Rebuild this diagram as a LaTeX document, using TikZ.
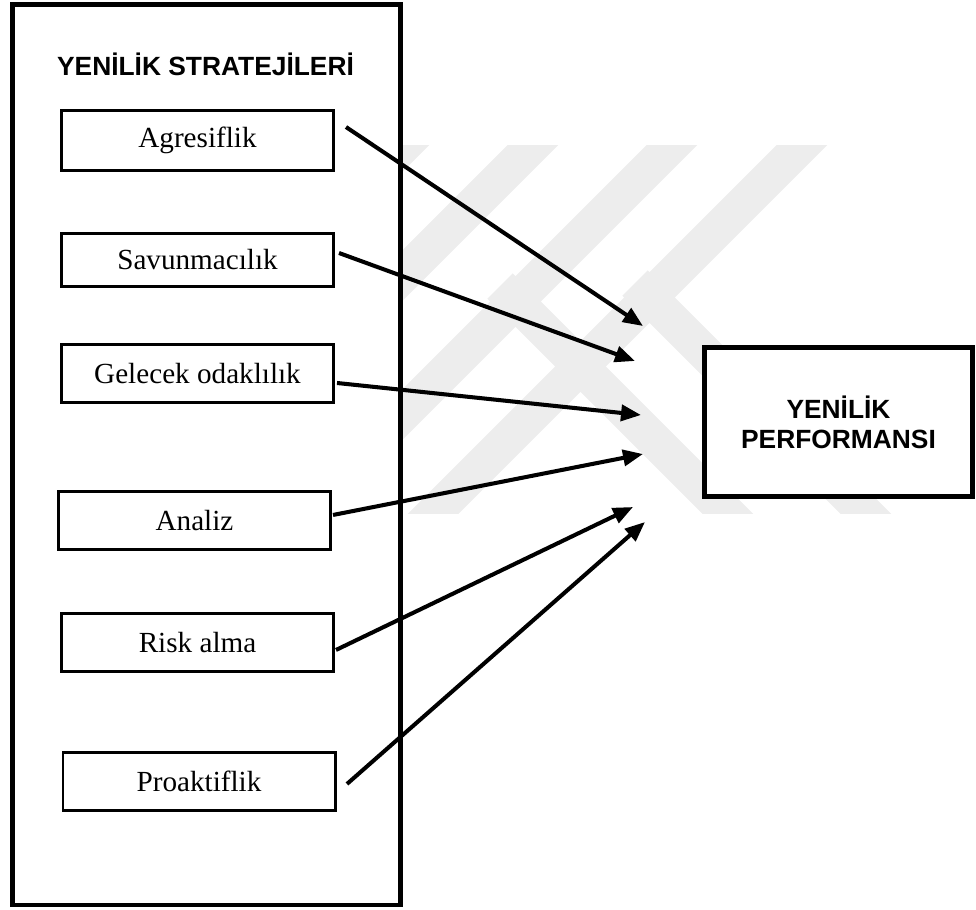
\documentclass[tikz,border=0pt]{standalone}
\usepackage{fontspec}
\setmainfont{Liberation Serif}
\setsansfont{Liberation Sans}
\usetikzlibrary{positioning,arrows.meta}

\begin{document}
\begin{tikzpicture}[
    stratbox/.style={rectangle, draw=black, line width=1.4pt, fill=white},
    factor/.style={rectangle, draw=black, line width=0.85pt, fill=white, minimum width=2.72cm, minimum height=0.58cm, inner sep=0pt, font=\fontsize{8.3}{10}\selectfont},
    heading/.style={font=\sffamily\bfseries\fontsize{7.5}{8.6}\selectfont, align=center},
    arrow/.style={-{Triangle[length=0.2cm,width=0.16cm]}, line width=1.15pt},
    wmark/.style={draw=black!7, line width=0.36cm}
]
    \useasboundingbox (0,0) rectangle (9.76,-9.09);

    % faint watermark
    \begin{scope}
        \clip (0,-1.45) rectangle (9.76,-5.13);
        \foreach \c in {5.49,6.78,8.17,9.47}
            \draw[wmark] ({\c-1.2},-1.2) -- ({\c-5.4},-5.4);
        \draw[wmark] (5.00,-2.86) -- (7.60,-5.46);
        \draw[wmark] (6.35,-2.83) -- (9.00,-5.48);
    \end{scope}

    \node[stratbox, minimum width=3.88cm, minimum height=9.005cm] (strat) at (2.065,-4.5475) {};
    \node[heading, anchor=base] (title) at (2.055,-0.75) {YENİLİK STRATEJİLERİ};

    \node[factor, minimum height=0.60cm] (agr) at (1.975,-1.405) {Agresiflik};
    \node[factor, minimum height=0.53cm, below=0.6cm of agr] (sav) {Savunmacılık};
    \node[factor, below=0.55cm of sav] (gel) {Gelecek odaklılık};
    \node[factor, below=0.86cm of gel, xshift=-0.03cm] (ana) {Analiz};
    \node[factor, below=0.61cm of ana, xshift=0.03cm] (risk) {Risk alma};
    \node[factor, below=0.78cm of risk, xshift=0.015cm] (pro) {Proaktiflik};

    \node[stratbox, heading, minimum width=2.68cm, minimum height=1.49cm] (perf) at (8.385,-4.22) {YENİLİK\\PERFORMANSI};

    \coordinate (tip1) at (6.43,-3.26);
    \coordinate (tip2) at (6.35,-3.61);
    \coordinate (tip3) at (6.41,-4.15);
    \coordinate (tip4) at (6.43,-4.54);
    \coordinate (tip5) at (6.33,-5.07);
    \coordinate (tip6) at (6.45,-5.22);

    \draw[arrow] ([shift={(0.11,0.135)}]agr.east) -- (tip1);
    \draw[arrow] ([shift={(0.04,0.07)}]sav.east) -- (tip2);
    \draw[arrow] ([shift={(0.02,-0.095)}]gel.east) -- (tip3);
    \draw[arrow] ([shift={(0.01,0.055)}]ana.east) -- (tip4);
    \draw[arrow] ([shift={(0.01,-0.075)}]risk.east) -- (tip5);
    \draw[arrow] ([shift={(0.105,-0.025)}]pro.east) -- (tip6);
\end{tikzpicture}
\end{document}
